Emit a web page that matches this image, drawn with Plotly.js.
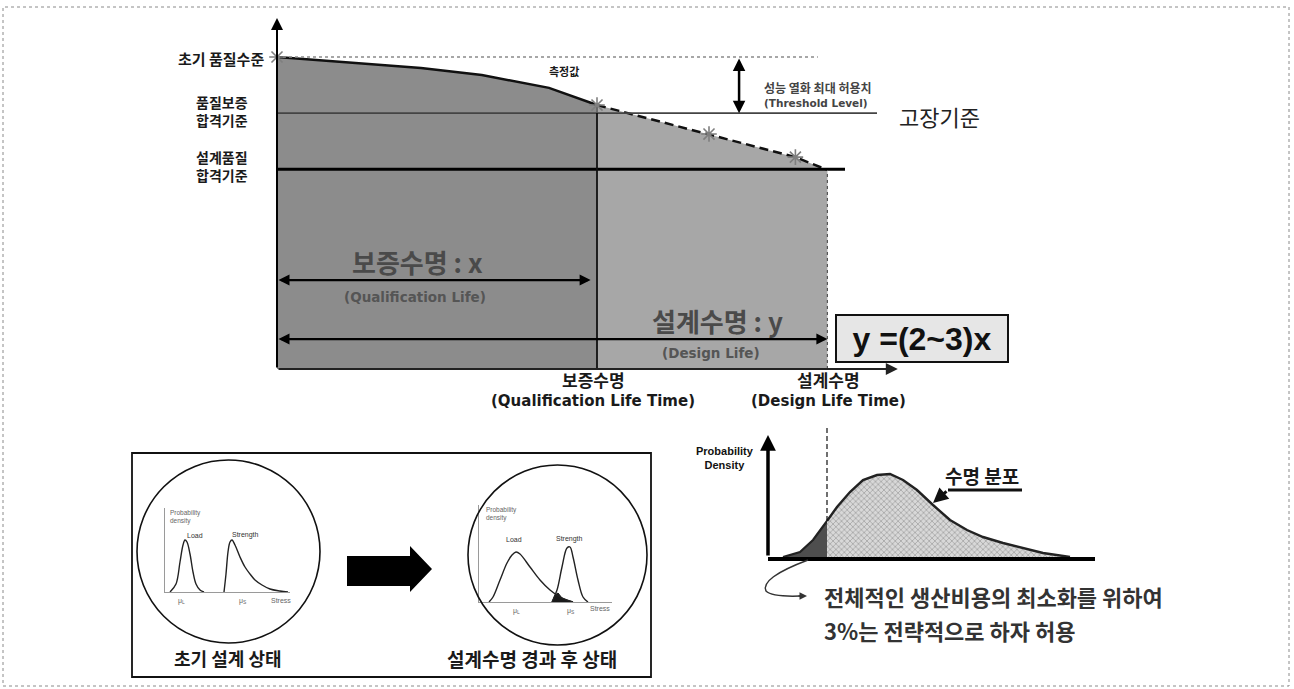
<!DOCTYPE html>
<html><head><meta charset="utf-8">
<script src="https://cdn.plot.ly/plotly-3.0.1.min.js"></script>
<style>html,body{margin:0;padding:0;background:#fff}#chart{width:1294px;height:689px}</style>
</head><body><div id="chart"></div>
<script>
// ---- Quality level over service life (arbitrary units) ----
const curveTime = [0, 2.3, 4.5, 6.4, 8.5, 10];
const curveQuality = [100, 98.1, 96.5, 94.2, 90.1, 84.6];
const wearTime = [10, 13.5, 16.2, 17.2];
const wearQuality = [84.6, 75.3, 67.9, 63.8];
const measuredTime = [0, 10, 13.5, 16.2];
const measuredQuality = [100, 84.6, 75.3, 67.9];
const initialLevel = 100;
const qualificationLevel = 82;
const designLevel = 64;
const qualificationLife = 10;
const designLife = 17.2;

// ---- Life distribution ----
const lifeX = [1.5, 3.2, 4.5, 5.9, 6.9, 8.2, 9.5, 10.9, 12.2, 13.5, 14.9, 16.5, 18.2, 19.9, 21.5, 23.5, 25.5, 27.5, 30.2];
const lifeDensity = [0, 0.05, 0.17, 0.36, 0.50, 0.65, 0.77, 0.82, 0.83, 0.77, 0.67, 0.52, 0.37, 0.27, 0.20, 0.14, 0.09, 0.04, 0];
const lifeDesignX = 5.9;

// ---- Load / strength interference: initial design ----
const loadX1 = [0.5, 1.1, 1.5, 1.8, 2.0, 2.2, 2.5, 2.8, 3.1, 3.5, 3.9];
const loadY1 = [0, 0.8, 3.0, 4.7, 5.2, 5.0, 3.8, 2.0, 0.8, 0.2, 0];
const strengthX1 = [5.9, 6.1, 6.3, 6.5, 6.7, 7.0, 7.5, 8.0, 8.5, 9.0, 9.7, 10.5, 11.5, 12.3];
const strengthY1 = [0, 1.8, 4.0, 5.0, 5.2, 4.7, 3.5, 2.5, 1.8, 1.2, 0.7, 0.3, 0.1, 0];

// ---- Load / strength interference: after design life ----
const loadX2 = [1.0, 1.4, 2.1, 2.8, 3.3, 3.7, 4.1, 5.1, 6.1, 7.1, 8.1, 9.4];
const loadY2 = [0, 0.5, 2.2, 3.9, 4.7, 5.0, 4.8, 3.5, 2.2, 1.2, 0.5, 0];
const strengthX2 = [7.3, 7.8, 8.3, 8.8, 9.1, 9.4, 9.9, 10.4, 10.9];
const strengthY2 = [0, 1.2, 3.5, 5.4, 5.5, 4.5, 2.2, 0.5, 0];
const overlapX2 = [7.3, 7.6, 7.9, 8.3, 8.8, 9.4];
const overlapY2 = [0, 0.7, 0.9, 0.4, 0.2, 0];

const W = 1294, H = 689;
const px = v => v / W;
const py = v => 1 - v / H;
const KR = '"Noto Sans CJK KR", "Liberation Sans", sans-serif';
const LAT = '"DejaVu Sans", "Noto Sans CJK KR", sans-serif';
const SANS = '"Liberation Sans", Arial, sans-serif';

const traces = [];

// main quality chart
traces.push({x: curveTime, y: curveQuality, xaxis: 'x', yaxis: 'y', mode: 'lines', fill: 'tozeroy',
  fillcolor: '#8c8c8c', line: {color: '#111', width: 2.5}, hoverinfo: 'skip'});
traces.push({x: wearTime, y: wearQuality, xaxis: 'x', yaxis: 'y', mode: 'lines', fill: 'tozeroy',
  fillcolor: '#a7a7a7', line: {color: '#111', width: 2.5, dash: '9px,5px'}, hoverinfo: 'skip'});
traces.push({x: [0, 16.9], y: [initialLevel, initialLevel], xaxis: 'x', yaxis: 'y', mode: 'lines',
  line: {color: '#8a8a8a', width: 1.5, dash: 'dot'}, hoverinfo: 'skip'});
traces.push({x: [0, 18.75], y: [qualificationLevel, qualificationLevel], xaxis: 'x', yaxis: 'y', mode: 'lines',
  line: {color: '#444', width: 1.6}, hoverinfo: 'skip'});
traces.push({x: [0, 17.75], y: [designLevel, designLevel], xaxis: 'x', yaxis: 'y', mode: 'lines',
  line: {color: '#000', width: 3}, hoverinfo: 'skip'});
traces.push({x: [qualificationLife, qualificationLife], y: [0, curveQuality[curveQuality.length - 1]], xaxis: 'x', yaxis: 'y',
  mode: 'lines', line: {color: '#111', width: 1.8}, hoverinfo: 'skip'});
traces.push({x: [designLife, designLife], y: [0, wearQuality[wearQuality.length - 1]], xaxis: 'x', yaxis: 'y',
  mode: 'lines', line: {color: '#555', width: 1.2, dash: 'dot'}, hoverinfo: 'skip'});
traces.push({x: measuredTime, y: measuredQuality, xaxis: 'x', yaxis: 'y', mode: 'markers', cliponaxis: false,
  marker: {symbol: 'asterisk-open', size: 13, line: {color: '#333', width: 1.6}}, hoverinfo: 'skip'});

// life distribution
const splitIdx = lifeX.indexOf(lifeDesignX);
traces.push({x: lifeX.slice(0, splitIdx + 1), y: lifeDensity.slice(0, splitIdx + 1), xaxis: 'x4', yaxis: 'y4',
  mode: 'lines', fill: 'tozeroy', fillcolor: '#4e4e4e', line: {color: '#222', width: 2.2}, hoverinfo: 'skip'});
traces.push({x: lifeX.slice(splitIdx), y: lifeDensity.slice(splitIdx), xaxis: 'x4', yaxis: 'y4',
  mode: 'lines', fill: 'tozeroy', fillcolor: '#cfcfcf',
  fillpattern: {shape: 'x', size: 4, solidity: 0.25, fgcolor: '#8a8a8a', bgcolor: '#d8d8d8'},
  line: {color: '#222', width: 2.4}, hoverinfo: 'skip'});
traces.push({x: [lifeDesignX, lifeDesignX], y: [lifeDensity[splitIdx], 1.32], xaxis: 'x4', yaxis: 'y4',
  mode: 'lines', line: {color: '#111', width: 1.2, dash: '5px,3px'}, hoverinfo: 'skip'});

// interference sketches
const thin = {color: '#222', width: 1.4};
traces.push({x: loadX1, y: loadY1, xaxis: 'x2', yaxis: 'y2', mode: 'lines', line: {...thin, shape: 'spline'}, hoverinfo: 'skip'});
traces.push({x: strengthX1, y: strengthY1, xaxis: 'x2', yaxis: 'y2', mode: 'lines', line: {...thin, shape: 'spline'}, hoverinfo: 'skip'});
traces.push({x: overlapX2, y: overlapY2, xaxis: 'x3', yaxis: 'y3', mode: 'lines', fill: 'toself',
  fillcolor: '#1a1a1a', line: {color: '#1a1a1a', width: 1}, hoverinfo: 'skip'});
traces.push({x: loadX2, y: loadY2, xaxis: 'x3', yaxis: 'y3', mode: 'lines', line: {...thin, shape: 'spline'}, hoverinfo: 'skip'});
traces.push({x: strengthX2, y: strengthY2, xaxis: 'x3', yaxis: 'y3', mode: 'lines', line: {...thin, shape: 'spline'}, hoverinfo: 'skip'});

const hidden = {visible: false, fixedrange: true};
const miniAxis = {showline: true, linecolor: '#9a9a9a', linewidth: 1, showticklabels: false, ticks: '',
  showgrid: false, zeroline: false, fixedrange: true};

function txt(text, x, y, size, opts, fam, color, weight) {
  return Object.assign({text: text, xref: 'paper', yref: 'paper', x: px(x), y: py(y), showarrow: false,
    xanchor: 'center', yanchor: 'middle',
    font: {family: fam || KR, size: size, color: color || '#1a1a1a', weight: weight === undefined ? 700 : weight}}, opts || {});
}
function arrow(xref, yref, hx, hy, tx, ty, opts) {
  return Object.assign({text: '', xref: xref, yref: yref, axref: xref, ayref: yref, x: hx, y: hy, ax: tx, ay: ty,
    showarrow: true, arrowhead: 2, arrowsize: 1, arrowwidth: 2, arrowcolor: '#000'}, opts || {});
}

const annotations = [
  // axes of the main chart
  arrow('x', 'y', 0, 112.5, 0, 0, {arrowwidth: 2, arrowsize: 1.2}),
  arrow('x', 'y', 19.4, 0, 0, 0, {arrowwidth: 2, arrowsize: 1.2, arrowcolor: '#222'}),
  // threshold span
  arrow('x', 'y', 14.44, qualificationLevel, 14.44, initialLevel, {arrowside: 'end+start', startarrowhead: 2, arrowwidth: 2.5}),
  // life spans
  arrow('x', 'y', 9.8, 28.5, 0, 28.5, {arrowside: 'end+start', startarrowhead: 2, arrowwidth: 2.2}),
  arrow('x', 'y', designLife, 9.6, 0, 9.6, {arrowside: 'end+start', startarrowhead: 2, arrowwidth: 2.2}),
  // life distribution axis
  arrow('x4', 'y4', 0, 1.22, 0, 0, {arrowwidth: 3.5, arrowsize: 0.9}),

  txt('초기 품질수준', 266, 59, 15, {xanchor: 'right'}),
  txt('품질보증<br>합격기준', 222, 111, 14),
  txt('설계품질<br>합격기준', 222, 166, 14),
  txt('측정값', 564, 71, 11),
  txt('성능 열화 최대 허용치', 762, 87, 12, {xanchor: 'left'}, KR, '#444'),
  txt('(Threshold Level)', 762, 103, 10.5, {xanchor: 'left'}, LAT, '#444'),
  txt('고장기준', 897, 116, 22, {xanchor: 'left'}, KR, '#222', 400),

  txt('보증수명 : x', 417, 261, 26, {}, KR, '#4a4a4a'),
  txt('(Qualification Life)', 415, 297, 13.5, {}, LAT, '#555'),
  txt('설계수명 : y', 717, 320, 26, {}, KR, '#4a4a4a'),
  txt('(Design Life)', 711, 353, 13.5, {}, LAT, '#555'),
  txt('y =(2~3)x', 922, 338, 32, {bgcolor: '#e6e6e6', bordercolor: '#111', borderwidth: 2, width: 168, height: 43}, SANS, '#111'),

  txt('보증수명', 593, 379, 17),
  txt('(Qualification Life Time)', 593, 401, 15, {}, LAT),
  txt('설계수명', 828, 379, 17),
  txt('(Design Life Time)', 828, 401, 15, {}, LAT),

  txt('Probability<br>Density', 725, 458, 11, {}, SANS, '#111'),
  txt('수명 분포', 943, 475, 19, {xanchor: 'left'}),
  {text: '', xref: 'paper', yref: 'paper', x: px(933), y: py(503), ax: 15, ay: -13, showarrow: true,
    arrowhead: 2, arrowsize: 1, arrowwidth: 3, arrowcolor: '#111'},
  {text: '', xref: 'paper', yref: 'paper', x: px(807), y: py(596), ax: -10, ay: 0, showarrow: true,
    arrowhead: 2, arrowsize: 1, arrowwidth: 1.5, arrowcolor: '#333'},
  txt('전체적인 생산비용의 최소화를 위하여', 822, 596, 22, {xanchor: 'left'}, KR, '#333'),
  txt('3%는 전략적으로 하자 허용', 822, 630, 22, {xanchor: 'left'}, KR, '#333'),

  // interference sketch labels
  txt('초기 설계 상태', 228, 658, 18),
  txt('설계수명 경과 후 상태', 532, 658, 19),
  txt('Probability<br>density', 168, 517, 6.5, {xanchor: 'left', align: 'left'}, SANS, '#666', 400),
  txt('Load', 195, 535, 7, {}, SANS, '#333', 400),
  txt('Strength', 245, 535, 7, {}, SANS, '#333', 400),
  txt('μ<sub>L</sub>', 182, 601, 7, {}, SANS, '#666', 400),
  txt('μ<sub>S</sub>', 243, 601, 7, {}, SANS, '#666', 400),
  txt('Stress', 281, 600, 7, {}, SANS, '#666', 400),
  txt('Probability<br>density', 484, 514, 6.5, {xanchor: 'left', align: 'left'}, SANS, '#666', 400),
  txt('Load', 514, 539, 7, {}, SANS, '#333', 400),
  txt('Strength', 569, 539, 7, {}, SANS, '#333', 400),
  txt('μ<sub>L</sub>', 516, 611, 7, {}, SANS, '#666', 400),
  txt('μ<sub>S</sub>', 571, 611, 7, {}, SANS, '#666', 400),
  txt('Stress', 600, 608, 7, {}, SANS, '#666', 400)
];

function path(pts, close) {
  return pts.map((p, i) => (i ? 'L' : 'M') + px(p[0]).toFixed(5) + ',' + py(p[1]).toFixed(5)).join(' ') + (close ? ' Z' : '');
}

const shapes = [
  // page frame
  {type: 'rect', xref: 'paper', yref: 'paper', x0: px(3), x1: px(1289), y0: py(686), y1: py(7),
    line: {color: '#8a8a8a', width: 1, dash: 'dot'}},
  // interference panel
  {type: 'rect', xref: 'paper', yref: 'paper', x0: px(132), x1: px(651), y0: py(677), y1: py(453),
    line: {color: '#111', width: 1.8}},
  {type: 'circle', xref: 'paper', yref: 'paper', x0: px(137), x1: px(320), y0: py(643), y1: py(460),
    line: {color: '#111', width: 1.6}},
  {type: 'circle', xref: 'paper', yref: 'paper', x0: px(468), x1: px(647), y0: py(645), y1: py(465),
    line: {color: '#111', width: 1.6}},
  {type: 'path', xref: 'paper', yref: 'paper', fillcolor: '#000', line: {width: 0},
    path: path([[347, 556], [410, 556], [410, 546], [432, 569], [410, 592], [410, 586], [347, 586]], true)},
  // life-distribution callouts
  {type: 'path', xref: 'paper', yref: 'paper', line: {color: '#111', width: 3},
    path: path([[1022, 490], [948, 490]], false)},
  {type: 'path', xref: 'paper', yref: 'paper', line: {color: '#333', width: 1.5},
    path: 'M' + px(808) + ',' + py(560) + ' Q' + px(760) + ',' + py(578) + ' ' + px(766) + ',' + py(591) +
      ' Q' + px(772) + ',' + py(597) + ' ' + px(800) + ',' + py(596)}
];

const layout = {
  width: W, height: H, autosize: false,
  margin: {l: 0, r: 0, t: 0, b: 0},
  paper_bgcolor: '#fff', plot_bgcolor: 'rgba(0,0,0,0)',
  showlegend: false,
  font: {family: KR},
  xaxis: Object.assign({domain: [px(277), px(897.8)], range: [0, 19.4], anchor: 'y'}, hidden),
  yaxis: Object.assign({domain: [py(369), py(18)], range: [0, 112.5], anchor: 'x'}, hidden),
  xaxis2: Object.assign({domain: [px(165), px(290)], range: [0, 12.5], anchor: 'y2'}, miniAxis),
  yaxis2: Object.assign({domain: [py(592), py(508)], range: [0, 8.4], anchor: 'x2'}, miniAxis),
  xaxis3: Object.assign({domain: [px(479), px(612)], range: [0, 13.3], anchor: 'y3'}, miniAxis),
  yaxis3: Object.assign({domain: [py(602), py(505)], range: [0, 9.7], anchor: 'x3'}, miniAxis),
  xaxis4: {domain: [px(768), px(1095)], range: [0, 32.7], anchor: 'y4', showline: true, linecolor: '#000',
    linewidth: 3.5, showticklabels: false, ticks: '', showgrid: false, zeroline: false, fixedrange: true},
  yaxis4: Object.assign({domain: [py(557), py(425)], range: [0, 1.32], anchor: 'x4'}, hidden),
  annotations: annotations,
  shapes: shapes
};

Plotly.newPlot('chart', traces, layout, {displayModeBar: false, staticPlot: true});
</script></body></html>
